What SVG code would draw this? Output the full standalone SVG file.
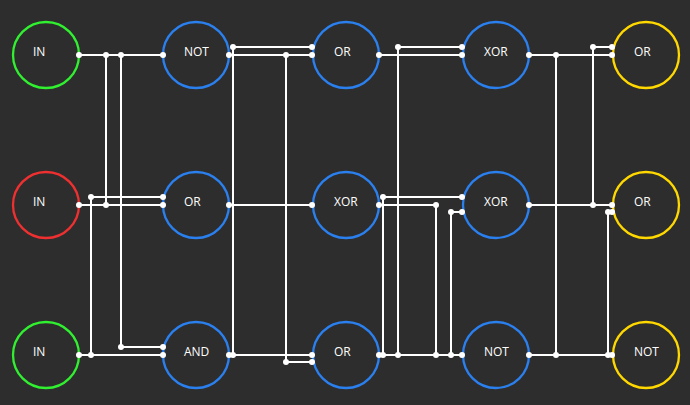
<svg xmlns="http://www.w3.org/2000/svg" width="690" height="405" viewBox="0 0 690 405">
<style>
.n{fill:none;stroke-width:2.3}
.g{stroke:#30f030}.r{stroke:#f03030}.b{stroke:#2b80f0}.y{stroke:#ffd800}
text{fill:#fff;font:12px "Open Sans","Noto Sans",sans-serif}
#connectors path{fill:none;stroke:#fff;stroke-width:2}
#connectors circle{fill:#fff}
</style>
<rect width="690" height="405" fill="#2d2d2d"/>
<g id="n1"><circle class="n g" cx="46" cy="55" r="33"/><text x="33" y="56">IN</text></g>
<g id="n2"><circle class="n r" cx="46" cy="205" r="33"/><text x="33" y="206">IN</text></g>
<g id="n3"><circle class="n g" cx="46" cy="355" r="33"/><text x="33" y="356">IN</text></g>
<g id="n4"><circle class="n b" cx="196" cy="55" r="33"/><text x="184" y="56">NOT</text></g>
<g id="n5"><circle class="n b" cx="196" cy="205" r="33"/><text x="184" y="206">OR</text></g>
<g id="n6"><circle class="n b" cx="196" cy="355" r="33"/><text x="184" y="356">AND</text></g>
<g id="n7"><circle class="n b" cx="346" cy="55" r="33"/><text x="334" y="56">OR</text></g>
<g id="n8"><circle class="n b" cx="346" cy="205" r="33"/><text x="334" y="206">XOR</text></g>
<g id="n9"><circle class="n b" cx="346" cy="355" r="33"/><text x="334" y="356">OR</text></g>
<g id="n10"><circle class="n b" cx="496" cy="55" r="33"/><text x="484" y="56">XOR</text></g>
<g id="n11"><circle class="n b" cx="496" cy="205" r="33"/><text x="484" y="206">XOR</text></g>
<g id="n12"><circle class="n b" cx="496" cy="355" r="33"/><text x="484" y="356">NOT</text></g>
<g id="n13"><circle class="n y" cx="646" cy="55" r="33"/><text x="634" y="56">OR</text></g>
<g id="n14"><circle class="n y" cx="646" cy="205" r="33"/><text x="634" y="206">OR</text></g>
<g id="n15"><circle class="n y" cx="646" cy="355" r="33"/><text x="634" y="356">NOT</text></g>
<g id="connectors">
<path d="M79 55H163M106 55V205M121 55V347H163"/>
<path d="M79 205H163"/>
<path d="M79 355H163M91 355V197H163"/>
<path d="M229 55H312M286 55V362H312"/>
<path d="M229 205H312"/>
<path d="M229 355H312M233 355V47H312"/>
<path d="M379 55H462"/>
<path d="M379 205H436V355"/>
<path d="M379 355H462M383 355V197H462M398 355V47H462M451 355V212H462"/>
<path d="M529 55H612M556 55V355"/>
<path d="M529 205H612M593 205V47H612"/>
<path d="M529 355H612M608 355V212H612"/>
<g>
<circle cx="79" cy="55" r="3"/><circle cx="106" cy="55" r="3"/><circle cx="121" cy="55" r="3"/><circle cx="163" cy="55" r="3"/>
<circle cx="79" cy="205" r="3"/><circle cx="106" cy="205" r="3"/><circle cx="91" cy="197" r="3"/><circle cx="163" cy="197" r="3"/><circle cx="163" cy="205" r="3"/>
<circle cx="79" cy="355" r="3"/><circle cx="91" cy="355" r="3"/><circle cx="121" cy="347" r="3"/><circle cx="163" cy="347" r="3"/><circle cx="163" cy="355" r="3"/>
<circle cx="229" cy="55" r="3"/><circle cx="233" cy="47" r="3"/><circle cx="286" cy="55" r="3"/><circle cx="312" cy="47" r="3"/><circle cx="312" cy="55" r="3"/>
<circle cx="229" cy="205" r="3"/><circle cx="312" cy="205" r="3"/>
<circle cx="229" cy="355" r="3"/><circle cx="233" cy="355" r="3"/><circle cx="286" cy="362" r="3"/><circle cx="312" cy="355" r="3"/><circle cx="312" cy="362" r="3"/>
<circle cx="379" cy="55" r="3"/><circle cx="398" cy="47" r="3"/><circle cx="462" cy="47" r="3"/><circle cx="462" cy="55" r="3"/>
<circle cx="379" cy="205" r="3"/><circle cx="383" cy="197" r="3"/><circle cx="436" cy="205" r="3"/><circle cx="451" cy="212" r="3"/><circle cx="462" cy="197" r="3"/><circle cx="462" cy="212" r="3"/>
<circle cx="379" cy="355" r="3"/><circle cx="383" cy="355" r="3"/><circle cx="398" cy="355" r="3"/><circle cx="436" cy="355" r="3"/><circle cx="451" cy="355" r="3"/><circle cx="462" cy="355" r="3"/>
<circle cx="529" cy="55" r="3"/><circle cx="556" cy="55" r="3"/><circle cx="593" cy="47" r="3"/><circle cx="612" cy="47" r="3"/><circle cx="612" cy="55" r="3"/>
<circle cx="529" cy="205" r="3"/><circle cx="593" cy="205" r="3"/><circle cx="612" cy="205" r="3"/><circle cx="608" cy="212" r="3"/><circle cx="612" cy="212" r="3"/>
<circle cx="529" cy="355" r="3"/><circle cx="556" cy="355" r="3"/><circle cx="608" cy="355" r="3"/><circle cx="612" cy="355" r="3"/>
</g>
</g>
</svg>
